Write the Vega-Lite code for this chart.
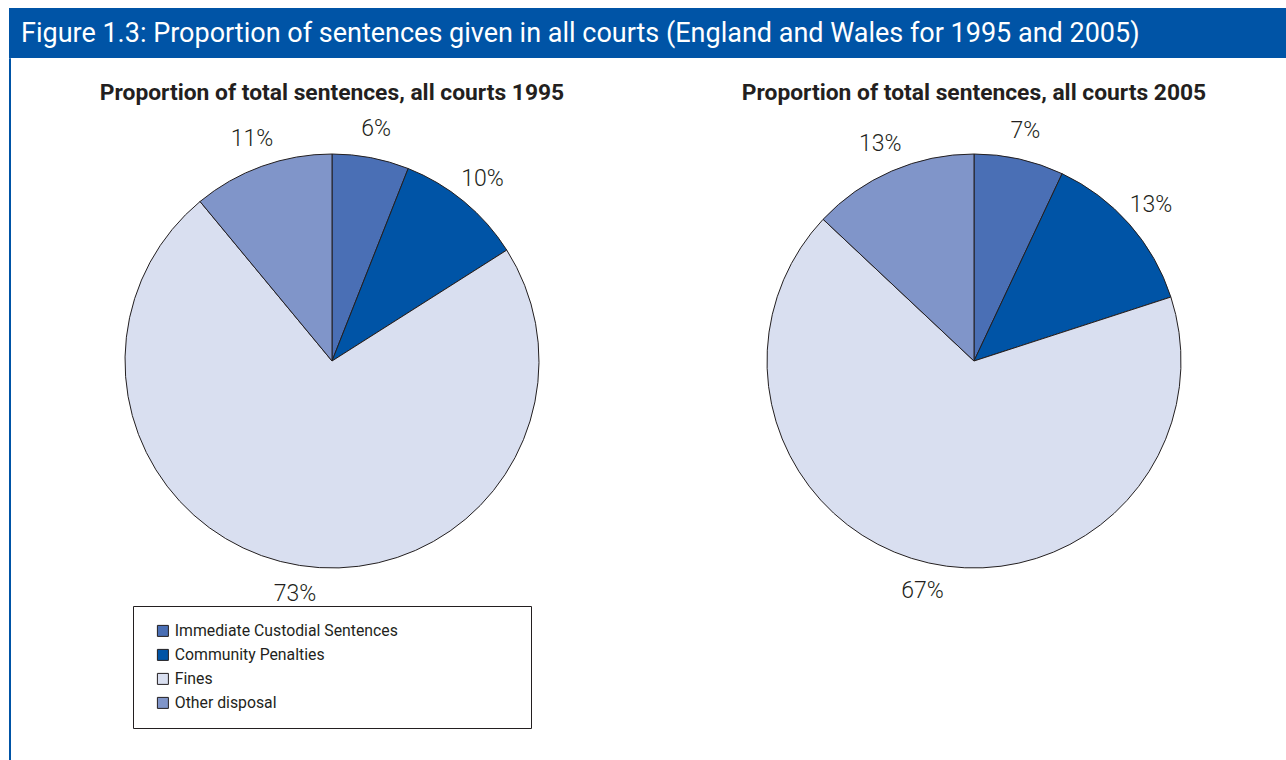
{
  "$schema": "https://vega.github.io/schema/vega-lite/v6.json",
  "padding": {"left": 8, "top": 8, "right": 0, "bottom": 0},
  "background": "white",
  "bounds": "flush",
  "spacing": 0,
  "config": {
    "view": {"stroke": null},
    "font": "Roboto",
    "concat": {"spacing": 0}
  },
  "datasets": {
    "d1995": [
      {"category": "Immediate Custodial Sentences", "rank": 1, "value": 6, "label": "6%"},
      {"category": "Community Penalties", "rank": 2, "value": 10, "label": "10%"},
      {"category": "Fines", "rank": 3, "value": 73, "label": "73%"},
      {"category": "Other disposal", "rank": 4, "value": 11, "label": "11%"}
    ],
    "d2005": [
      {"category": "Immediate Custodial Sentences", "rank": 1, "value": 7, "label": "7%"},
      {"category": "Community Penalties", "rank": 2, "value": 13, "label": "13%"},
      {"category": "Fines", "rank": 3, "value": 67, "label": "67%"},
      {"category": "Other disposal", "rank": 4, "value": 13, "label": "13%"}
    ]
  },
  "vconcat": [
    {
      "width": 1278,
      "height": 50,
      "view": {"fill": "#0054a6", "stroke": null},
      "data": {"values": [{"t": ""}]},
      "mark": {"type": "text", "text": ""},
      "encoding": {},
      "title": {
        "text": "Figure 1.3: Proportion of sentences given in all courts (England and Wales for 1995 and 2005)",
        "anchor": "start",
        "frame": "group",
        "dx": 12,
        "offset": -40,
        "color": "white",
        "fontSize": 27,
        "fontWeight": "normal",
        "font": "Roboto"
      }
    },
    {
      "bounds": "flush",
      "spacing": 22,
      "hconcat": [
        {
          "width": 1,
          "height": 702,
          "view": {"stroke": "#0054a6", "strokeWidth": 1},
          "data": {"values": [{"t": ""}]},
          "mark": {"type": "text", "text": ""},
          "encoding": {}
        },
        {
          "bounds": "flush",
          "spacing": 42,
          "hconcat": [
            {
              "width": 600,
              "height": 606,
              "data": {"name": "d1995"},
              "title": {"text": "Proportion of total sentences, all courts 1995", "offset": -47, "fontSize": 22.8, "fontWeight": "bold", "color": "#231f20", "font": "Roboto"},
              "encoding": {
                "theta": {"field": "value", "type": "quantitative", "stack": true},
                "order": {"field": "rank", "type": "quantitative"}
              },
              "layer": [
                {
                  "mark": {"type": "arc", "radius": 207, "stroke": "#231f20", "strokeWidth": 1},
                  "encoding": {
                    "color": {
                      "field": "category", "type": "nominal",
                      "scale": {"domain": ["Immediate Custodial Sentences", "Community Penalties", "Fines", "Other disposal"], "range": ["#4a6fb5", "#0054a6", "#d9dff0", "#8095c9"]},
                      "legend": {
                        "orient": "none", "legendX": 124, "legendY": 598,
                        "title": "\u00a0", "titleOrient": "right", "titlePadding": 116,
                        "strokeColor": "#231f20", "fillColor": "white", "padding": 17,
                        "symbolType": "square", "symbolSize": 121, "symbolStrokeColor": "#231f20", "symbolStrokeWidth": 1,
                        "symbolOffset": 5, "labelOffset": 4, "labelLimit": 0,
                        "labelFontSize": 15.8, "labelColor": "#231f20", "labelFont": "Roboto", "rowPadding": 7
                      }
                    }
                  }
                },
                {
                  "mark": {"type": "text", "radius": 236, "fontSize": 23, "fontWeight": 300, "color": "#231f20"},
                  "encoding": {"text": {"field": "label"}}
                }
              ]
            },
            {
              "width": 600,
              "height": 606,
              "data": {"name": "d2005"},
              "title": {"text": "Proportion of total sentences, all courts 2005", "offset": -47, "fontSize": 22.8, "fontWeight": "bold", "color": "#231f20", "font": "Roboto"},
              "encoding": {
                "theta": {"field": "value", "type": "quantitative", "stack": true},
                "order": {"field": "rank", "type": "quantitative"}
              },
              "layer": [
                {
                  "mark": {"type": "arc", "radius": 207, "stroke": "#231f20", "strokeWidth": 1},
                  "encoding": {
                    "color": {
                      "field": "category", "type": "nominal",
                      "scale": {"domain": ["Immediate Custodial Sentences", "Community Penalties", "Fines", "Other disposal"], "range": ["#4a6fb5", "#0054a6", "#d9dff0", "#8095c9"]}
                    }
                  }
                },
                {
                  "mark": {"type": "text", "radius": 236, "fontSize": 23, "fontWeight": 300, "color": "#231f20"},
                  "encoding": {"text": {"field": "label"}}
                }
              ]
            }
          ]
        }
      ]
    }
  ]
}
